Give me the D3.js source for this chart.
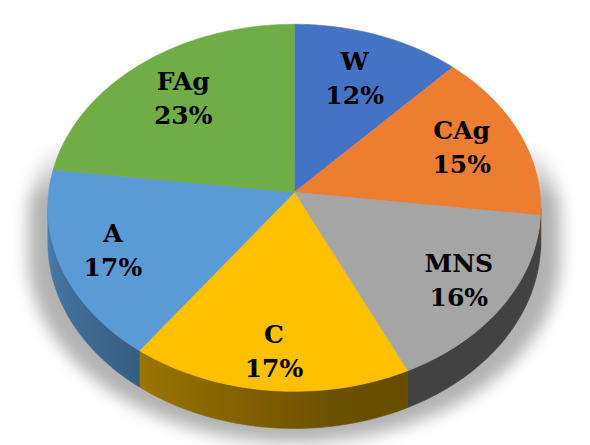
<!DOCTYPE html>
<html>
<head>
<meta charset="utf-8">
<script src="https://cdn.jsdelivr.net/npm/d3@7"></script>
<style>
  body { margin: 0; background: #fff; }
  .lbl { font-family: "DejaVu Serif", "Noto Serif", serif; font-weight: bold; font-size: 25px; fill: #000; }
</style>
</head>
<body>
<div id="chart"></div>
<script>
// data
var categories = ["W", "CAg", "MNS", "C", "A", "FAg"];
var values = [12, 15, 16, 17, 17, 23];
var percentLabels = ["12%", "15%", "16%", "17%", "17%", "23%"];
var colors = ["#4472C4", "#ED7D31", "#A5A5A5", "#FFC000", "#5B9BD5", "#70AD47"];

var width = 590, height = 445;

// perspective of the disc
var cx = 294.3, cy = 192.3;
var rx = 245.6, ry = 182.2;
var persp = -0.0845;   // front is nearer
var depth = 34;

var svg = d3.select("#chart").append("svg")
    .attr("width", width)
    .attr("height", height);

var defs = svg.append("defs");

/* project a point on the disc (angle from 12 o'clock, clockwise) */
function proj(a, r, drop) {
  var X = r * Math.sin(a), Y = -r * Math.cos(a);
  var s = 1 / (1 + persp * Y);
  return [cx + rx * X * s, cy + ry * Y * s + (drop || 0) * s];
}

function arcPoints(a0, a1, drop) {
  var n = Math.max(2, Math.ceil(Math.abs(a1 - a0) / 0.02));
  return d3.range(n + 1).map(function (i) {
    return proj(a0 + (a1 - a0) * i / n, 1, drop);
  });
}

var line = d3.line();
var pie = d3.pie().sort(null).value(function (d) { return d; });
var arcs = pie(values);

// angles where the rim turns away (left / right silhouette)
var sideA0 = Math.acos(persp);
var sideA1 = 2 * Math.PI - sideA0;

/* shadow */
var blur = defs.append("filter").attr("id", "shadowBlur")
    .attr("filterUnits", "userSpaceOnUse")
    .attr("x", 0).attr("y", 0).attr("width", width).attr("height", height);
blur.append("feGaussianBlur").attr("stdDeviation", 8);

var fade = defs.append("linearGradient").attr("id", "shadowFade")
    .attr("gradientUnits", "userSpaceOnUse")
    .attr("x1", 0).attr("y1", 140).attr("x2", 0).attr("y2", 200);
fade.append("stop").attr("offset", 0).attr("stop-color", "#fff").attr("stop-opacity", 0);
fade.append("stop").attr("offset", 1).attr("stop-color", "#fff").attr("stop-opacity", 1);

defs.append("mask").attr("id", "shadowMask")
    .attr("maskUnits", "userSpaceOnUse")
    .attr("x", 0).attr("y", 0).attr("width", width).attr("height", height)
  .append("rect")
    .attr("x", 0).attr("y", 0).attr("width", width).attr("height", height)
    .attr("fill", "url(#shadowFade)");

var shadowPts = arcPoints(sideA0, sideA1, depth)
  .concat(arcPoints(sideA1, sideA0 + 2 * Math.PI, 0))
  .map(function (p) { return [cx + (p[0] - cx) * 1.08, p[1] + 14]; });

svg.append("g").attr("mask", "url(#shadowMask)")
  .append("g").attr("filter", "url(#shadowBlur)")
  .append("path")
    .attr("d", line(shadowPts) + "Z")
    .attr("fill", "#000")
    .attr("fill-opacity", 0.3);

/* side walls */
function shade(base, a) {
  var t = Math.max(0, Math.min(1, (a - 2.9) / 1.75));
  var f = 0.40 + 0.42 * t;
  var c = d3.rgb(base);
  return d3.rgb(c.r * f, c.g * f, c.b * f).formatHex();
}

var sides = svg.append("g");
arcs.forEach(function (d, i) {
  var lo = Math.max(d.startAngle, sideA0), hi = Math.min(d.endAngle, sideA1);
  if (lo >= hi) return;
  var gid = "side" + i;
  var pLo = proj(lo, 1), pHi = proj(hi, 1);
  var g = defs.append("linearGradient").attr("id", gid)
      .attr("gradientUnits", "userSpaceOnUse")
      .attr("x1", pLo[0]).attr("y1", 0).attr("x2", pHi[0]).attr("y2", 0);
  d3.range(5).forEach(function (j) {
    var a = lo + (hi - lo) * j / 4;
    var p = proj(a, 1);
    var off = (pHi[0] === pLo[0]) ? 0 : (p[0] - pLo[0]) / (pHi[0] - pLo[0]);
    g.append("stop").attr("offset", off).attr("stop-color", shade(colors[i], a));
  });
  var pts = arcPoints(lo, hi, 0).concat(arcPoints(hi, lo, depth));
  sides.append("path")
    .attr("d", line(pts) + "Z")
    .attr("fill", "url(#" + gid + ")")
    .attr("stroke", "url(#" + gid + ")")
    .attr("stroke-width", 0.6);
});

/* top faces */
svg.append("g").selectAll("path")
  .data(arcs)
  .enter()
  .append("path")
    .attr("d", function (d) {
      return line([[cx, cy]].concat(arcPoints(d.startAngle, d.endAngle, 0))) + "Z";
    })
    .attr("fill", function (d, i) { return colors[i]; })
    .attr("stroke", function (d, i) { return colors[i]; })
    .attr("stroke-width", 0.6);

/* labels */
var labels = svg.append("g")
    .attr("text-anchor", "middle")
  .selectAll("g")
  .data(arcs)
  .enter()
  .append("g")
    .attr("transform", function (d) {
      var mid = (d.startAngle + d.endAngle) / 2;
      var r = 0.76 - 0.06 * Math.cos(mid);
      var p = proj(mid, r);
      return "translate(" + p[0] + "," + p[1] + ")";
    });

labels.append("text")
    .attr("class", "lbl")
    .attr("y", -9)
    .text(function (d, i) { return categories[i]; });

labels.append("text")
    .attr("class", "lbl")
    .attr("y", 25)
    .text(function (d, i) { return percentLabels[i]; });
</script>
</body>
</html>
